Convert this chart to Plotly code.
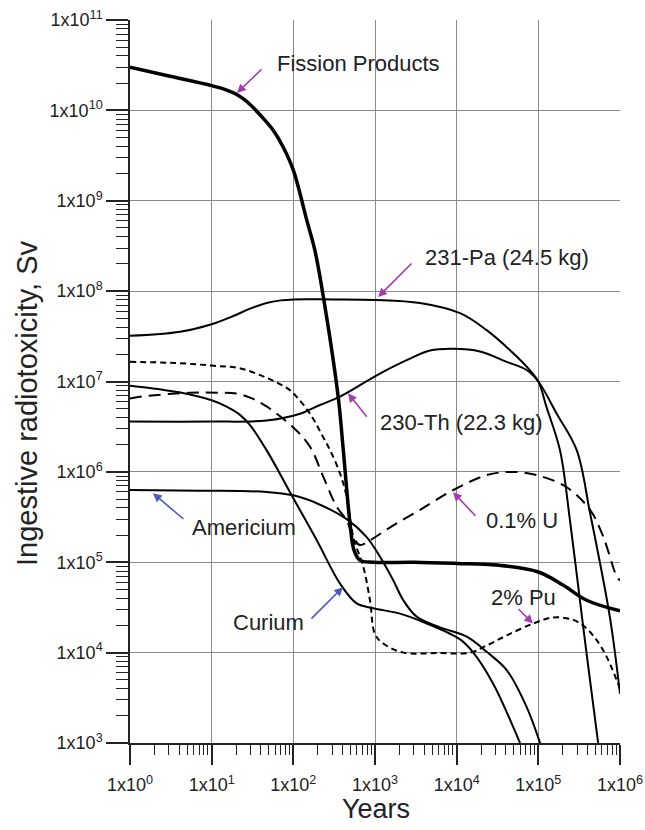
import math
import plotly.graph_objects as go

# ---------------- data (years, ingestive radiotoxicity in Sv) ----------------
fp_years = [1, 3, 10, 15, 20, 25, 32, 42, 57, 75, 100, 146, 184, 237, 356, 409, 494, 553, 655, 950, 3000, 1e4,
            3.1e4, 1e5, 2e5, 3.9e5, 1e6]
fp_vals = [3.0e10, 2.4e10, 1.88e10, 1.69e10, 1.51e10, 1.32e10, 1.08e10, 8.3e9, 5.98e9, 3.93e9, 2.18e9, 6.1e8,
           2.8e8, 7.9e7, 6.5e6, 1.74e6, 2.7e5, 1.36e5, 1.05e5, 1.0e5, 1.0e5, 9.7e4, 9.3e4, 7.8e4, 5.6e4, 3.8e4,
           2.9e4]

pa_years = [1, 4.1, 10, 18.4, 29.5, 47, 70, 100, 300, 1000, 3555, 1.1e4, 2.33e4, 4.1e4, 7.2e4, 1e5, 1.26e5,
            1.84e5, 2.44e5, 3.4e5, 4.3e5, 5.4e5]
pa_vals = [3.2e7, 3.55e7, 4.3e7, 5.3e7, 6.4e7, 7.4e7, 7.9e7, 8.1e7, 8.1e7, 8.0e7, 7.4e7, 5.7e7, 3.7e7, 2.4e7,
           1.46e7, 1.0e7, 5.2e6, 1.74e6, 2.9e5, 2.6e4, 4.9e3, 1.0e3]

th_years = [1, 10, 47, 121, 212, 373, 1050, 2443, 4710, 9100, 1.93e4, 4.1e4, 7.2e4, 1e5, 1.68e5, 2.95e5, 4.3e5,
            7.5e5, 1e6]
th_vals = [3.6e6, 3.6e6, 3.7e6, 4.4e6, 5.5e6, 6.8e6, 1.17e7, 1.72e7, 2.2e7, 2.3e7, 2.15e7, 1.65e7, 1.34e7, 1.0e7,
           4.4e6, 1.74e6, 3.5e5, 2.5e4, 3.5e3]

u_years = [1, 1.33, 5.4, 12.6, 20, 30, 47, 100, 160, 233, 340, 450, 542, 655, 870, 1600, 3555, 9100, 2.33e4, 4.5e4,
           9.55e4, 2.2e5, 4.3e5, 6.2e5, 9.1e5, 1e6]
u_vals = [6.5e6, 6.8e6, 7.5e6, 7.5e6, 7.35e6, 6.6e6, 5.3e6, 3.1e6, 1.9e6, 8.8e5, 4.1e5, 2.9e5, 1.9e5, 1.55e5,
          1.75e5, 2.5e5, 3.8e5, 6.3e5, 9.2e5, 1.0e6, 9.2e5, 6.8e5, 3.8e5, 1.94e5, 7.0e4, 6.3e4]

pu_years = [1, 3.7, 10, 22, 47, 83, 100, 160, 233, 281, 373, 450, 542, 719, 868, 1000, 1264, 2220, 5690, 1.46e4,
            2.33e4, 4.1e4, 8.7e4, 1.52e5, 2.68e5, 3.9e5, 6.2e5, 1e6]
pu_vals = [1.65e7, 1.6e7, 1.5e7, 1.4e7, 1.1e7, 8.5e6, 7.4e6, 4.4e6, 2.4e6, 1.75e6, 9.6e5, 5.3e5, 1.9e5, 8.9e4, 3.8e4,
           1.6e4, 1.26e4, 1.0e4, 9.9e3, 1.0e4, 1.2e4, 1.55e4, 2.1e4, 2.45e4, 2.3e4, 1.85e4, 1.07e4, 4.0e3]

am_years = [1, 7.2, 47, 100, 193, 450, 791, 1152, 1675, 2220, 3236, 6250, 1.33e4, 2.33e4, 4.1e4, 7.2e4, 1.05e5]
am_vals = [6.3e5, 6.2e5, 6.0e5, 5.5e5, 4.5e5, 3.0e5, 1.9e5, 1.15e5, 6.3e4, 3.8e4, 2.5e4, 1.9e4, 1.5e4, 1.02e4,
           6.4e3, 2.5e3, 1.0e3]

cm_years = [1, 4, 10, 15, 22, 29.5, 47, 100, 193, 373, 597, 953, 2024, 4295, 1.1e4, 1.6e4, 2.81e4, 4.93e4, 5.96e4]
cm_vals = [9.0e6, 7.6e6, 6.2e6, 5.3e6, 4.3e6, 3.3e6, 1.74e6, 5.1e5, 1.76e5, 5.8e4, 3.5e4, 3.1e4, 2.7e4, 2.1e4,
           1.4e4, 1.0e4, 4.5e3, 1.5e3, 1.0e3]

x_ticks = [1e0, 1e1, 1e2, 1e3, 1e4, 1e5, 1e6]
y_ticks = [1e3, 1e4, 1e5, 1e6, 1e7, 1e8, 1e9, 1e10, 1e11]
x_ticktext = ["1x10<sup>%d</sup>" % round(math.log10(v)) for v in x_ticks]
y_ticktext = ["1x10<sup>%d</sup>" % round(math.log10(v)) for v in y_ticks]

# labels: text, text position (years, Sv), arrow tip (years, Sv), arrow offset (px), colour
MAG = "#a43cb0"
BLU = "#4b5bbd"
labels = [
    ("Fission Products", 620, 3.26e10, 20.4, 1.56e10, 26, -25, MAG),
    ("231-Pa (24.5 kg)", 4.13e4, 2.38e8, 1090, 8.6e7, 35, -35, MAG),
    ("230-Th (22.3 kg)", 1.16e4, 3.55e6, 467, 7.4e6, 20, 25, MAG),
    ("0.1% U", 6.3e4, 2.92e5, 9000, 5.96e5, 24, 25, MAG),
    ("2% Pu", 6.5e4, 4.1e4, 8.6e4, 2.1e4, -16, -16, MAG),
    ("Americium", 24.9, 2.44e5, 1.91, 5.8e5, 32, 27, BLU),
    ("Curium", 49, 2.17e4, 405, 5.3e4, -33, 33, BLU),
]

# ---------------- figure ----------------
fig = go.Figure()

def add_line(xs, ys, width=2.0, dash="solid"):
    fig.add_trace(go.Scatter(x=xs, y=ys, mode="lines",
                             line=dict(color="black", width=width, dash=dash, shape="spline", smoothing=1.0,
                                       simplify=False),
                             hoverinfo="skip"))

add_line(pa_years, pa_vals)
add_line(th_years, th_vals)
add_line(am_years, am_vals)
add_line(cm_years, cm_vals)
add_line(u_years, u_vals, dash="12px,7px")
add_line(pu_years, pu_vals, dash="6px,4px")
add_line(fp_years, fp_vals, width=3.5)

annotations = []
for text, tx, ty, ax_, ay_, dx, dy, col in labels:
    annotations.append(dict(x=math.log10(tx), y=math.log10(ty), xref="x", yref="y", text=text, showarrow=False,
                            font=dict(size=22, color="#222222"), xanchor="center", yanchor="middle"))
    annotations.append(dict(x=math.log10(ax_), y=math.log10(ay_), xref="x", yref="y", text="", showarrow=True,
                            ax=dx, ay=dy, arrowhead=2, arrowsize=1.1, arrowwidth=1.6, arrowcolor=col))

W, H = 645, 830
L, R, T, B = 130, 25, 20, 87

def px_to_paper(px, py):
    return (px - L) / (W - L - R), 1 - (py - T) / (H - T - B)

yx, yy = px_to_paper(27, 403)
annotations.append(dict(x=yx, y=yy, xref="paper", yref="paper", text="Ingestive radiotoxicity, Sv",
                        showarrow=False, textangle=-90, font=dict(size=29, color="#222222"),
                        xanchor="center", yanchor="middle"))
xx, xy = px_to_paper(376, 809)
annotations.append(dict(x=xx, y=xy, xref="paper", yref="paper", text="Years", showarrow=False,
                        font=dict(size=27, color="#222222"), xanchor="center", yanchor="middle"))

fig.update_layout(
    width=W, height=H,
    margin=dict(l=L, r=R, t=T, b=B, autoexpand=False),
    plot_bgcolor="white", paper_bgcolor="white",
    showlegend=False,
    font=dict(family="Liberation Sans, Arial, Helvetica, sans-serif", color="#222222"),
    annotations=annotations,
)

fig.update_xaxes(
    type="log", range=[0, 6], automargin=False,
    tickmode="array", tickvals=x_ticks, ticktext=x_ticktext,
    ticks="outside", ticklen=20, tickwidth=1.5, tickcolor="#222222",
    tickfont=dict(size=18), ticklabelstandoff=5,
    showline=True, linecolor="#222222", linewidth=1.5,
    showgrid=True, gridcolor="#8a8a8a", gridwidth=1.3,
    zeroline=False,
    minor=dict(ticks="outside", ticklen=10, tickwidth=1.3, tickcolor="#222222", dtick="D1", showgrid=False),
)
fig.update_yaxes(
    type="log", range=[3, 11], automargin=False,
    tickmode="array", tickvals=y_ticks, ticktext=y_ticktext,
    ticks="outside", ticklen=22, tickwidth=1.5, tickcolor="#222222",
    tickfont=dict(size=18),
    showline=True, linecolor="#222222", linewidth=1.5,
    showgrid=True, gridcolor="#8a8a8a", gridwidth=1.3,
    zeroline=False,
    minor=dict(ticks="outside", ticklen=12, tickwidth=1.3, tickcolor="#222222", dtick="D1", showgrid=False),
)

fig.write_html("out.html", config={"displayModeBar": False},
               post_script="document.body.style.margin='0';")
